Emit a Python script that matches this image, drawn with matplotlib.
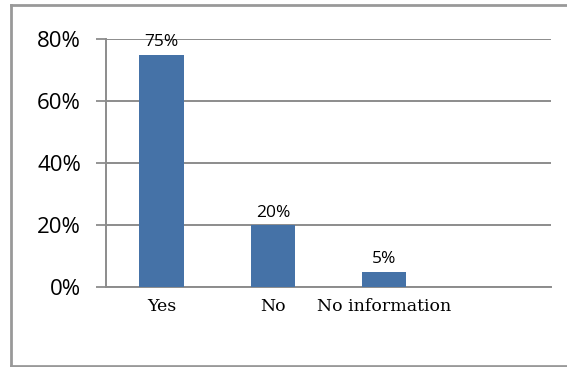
import matplotlib
matplotlib.use("Agg")
import matplotlib.pyplot as plt
from matplotlib.lines import Line2D

categories = ["Yes", "No", "No information"]
values = [0.75, 0.20, 0.05]
value_labels = ["75%", "20%", "5%"]
y_ticks = [0.0, 0.2, 0.4, 0.6, 0.8]
y_tick_labels = ["0%", "20%", "40%", "60%", "80%"]

W, H = 567, 367
fig = plt.figure(figsize=(W / 100, H / 100), dpi=100)
ax = fig.add_axes([106 / W, 1 - 287 / H, (551 - 106) / W, (287 - 39) / H])

grey = "#8c8c8c"
bar_color = "#4572a7"

x = list(range(len(categories)))
ax.bar(x, values, width=0.4, color=bar_color, zorder=3)

for xi, v, lab in zip(x, values, value_labels):
    ax.annotate(lab, (xi, v), xytext=(0, 3), textcoords="offset points",
                ha="center", va="bottom", fontsize=12.5,
                family=["Open Sans", "DejaVu Sans"], color="black", zorder=4)

ax.set_xlim(-0.5, 3.5)
ax.set_ylim(0, 0.8)
ax.set_yticks(y_ticks)
ax.set_yticklabels(y_tick_labels, fontsize=16, family=["Open Sans", "DejaVu Sans"])
ax.set_xticks(x)
ax.set_xticklabels(categories, fontsize=12.5, family=["DejaVu Serif"])

ax.yaxis.grid(True, color=grey, linewidth=1.4, zorder=0)
ax.set_axisbelow(True)
ax.tick_params(axis="y", length=7, width=1.3, color=grey, pad=11)
ax.tick_params(axis="x", length=0, pad=8)
for side in ("top", "right"):
    ax.spines[side].set_visible(False)
for side in ("left", "bottom"):
    ax.spines[side].set_color(grey)
    ax.spines[side].set_linewidth(1.4)

# outer chart frame
frame_kw = dict(color="#999999", linewidth=2, transform=fig.transFigure)
fig.add_artist(Line2D([11 / W, 11 / W], [1 - 5 / H, 1 - 366 / H], **frame_kw))
fig.add_artist(Line2D([11 / W, 1], [1 - 5 / H, 1 - 5 / H], **frame_kw))
fig.add_artist(Line2D([11 / W, 1], [1 - 366 / H, 1 - 366 / H], **frame_kw))

fig.savefig("out.png", dpi=100)
